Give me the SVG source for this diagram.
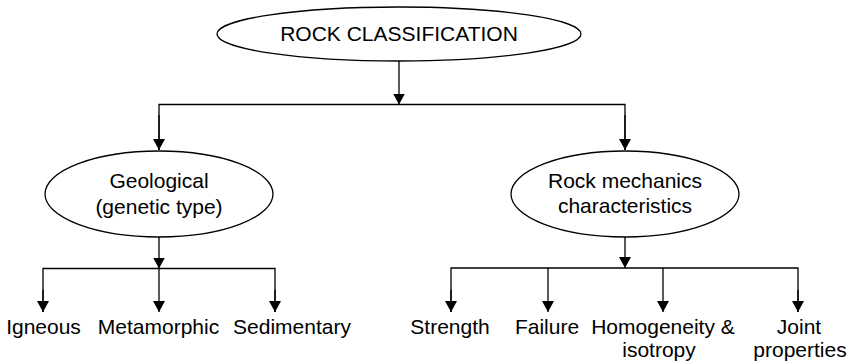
<svg xmlns="http://www.w3.org/2000/svg" width="854" height="362" viewBox="0 0 854 362">
<style>
.node ellipse{fill:#fff;stroke:#000;stroke-width:1.3}
text{font-family:"Liberation Sans",Arial,sans-serif;font-size:21px;fill:#000;text-anchor:middle}
.conn path{fill:none;stroke:#000;stroke-width:1.3}
</style>
<defs>
<marker id="ah" markerUnits="userSpaceOnUse" markerWidth="12" markerHeight="12" refX="11" refY="6" orient="auto">
<path d="M0,0 L11,6 L0,12 z" fill="#000"/>
</marker>
</defs>
<rect width="854" height="362" fill="#fff"/>
<g class="conn">
<path d="M399,61 V104.5" marker-end="url(#ah)"/>
<path d="M159,150 V104.5 H625 V150" />
<path d="M159,115 V150" marker-end="url(#ah)"/>
<path d="M625,115 V150" marker-end="url(#ah)"/>
<path d="M159,237 V268.5" marker-end="url(#ah)"/>
<path d="M43,312 V268.5 H275 V312"/>
<path d="M43,290 V312" marker-end="url(#ah)"/>
<path d="M159,268 V312" marker-end="url(#ah)"/>
<path d="M275,290 V312" marker-end="url(#ah)"/>
<path d="M625,237 V268" marker-end="url(#ah)"/>
<path d="M451,312 V268 H798 V312"/>
<path d="M451,290 V312" marker-end="url(#ah)"/>
<path d="M548,268 V312" marker-end="url(#ah)"/>
<path d="M663,268 V312" marker-end="url(#ah)"/>
<path d="M798,290 V312" marker-end="url(#ah)"/>
</g>
<g id="root" class="node">
<ellipse cx="399" cy="34" rx="182" ry="27"/>
<text x="399" y="41">ROCK CLASSIFICATION</text>
</g>
<g id="geological" class="node">
<ellipse cx="159" cy="194" rx="114" ry="43"/>
<text x="159" y="188">Geological</text>
<text x="159" y="214">(genetic type)</text>
</g>
<g id="rockmech" class="node">
<ellipse cx="625" cy="194" rx="114" ry="43"/>
<text x="625" y="188">Rock mechanics</text>
<text x="625" y="213">characteristics</text>
</g>
<g id="igneous"><text x="43.5" y="334">Igneous</text></g>
<g id="metamorphic"><text x="158.5" y="334">Metamorphic</text></g>
<g id="sedimentary"><text x="292" y="334">Sedimentary</text></g>
<g id="strength"><text x="450" y="334">Strength</text></g>
<g id="failure"><text x="547" y="334">Failure</text></g>
<g id="homogeneity"><text x="663" y="334">Homogeneity &amp;</text><text x="659" y="357">isotropy</text></g>
<g id="joint"><text x="799" y="334">Joint</text><text x="800" y="357">properties</text></g>
</svg>
